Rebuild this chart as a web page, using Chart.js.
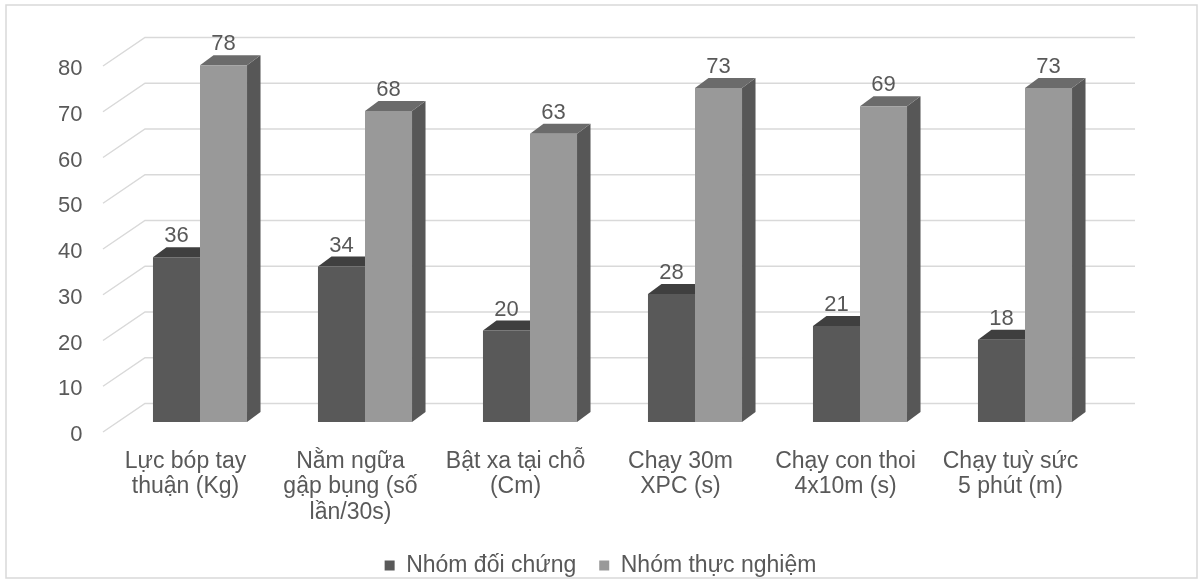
<!DOCTYPE html>
<html lang="vi">
<head>
<meta charset="UTF-8">
<title>Kết quả kiểm tra</title>
<script src="https://cdn.jsdelivr.net/npm/chart.js"></script>
<style>
  html, body { margin: 0; padding: 0; background: #fff; }
  #wrap { width: 1201px; height: 583px; }
</style>
</head>
<body>
<div id="wrap"><canvas id="myChart" width="1201" height="583"></canvas></div>
<script>
const categories = [
  ['Lực bóp tay', 'thuận (Kg)'],
  ['Nằm ngữa', 'gập bụng (số', 'lần/30s)'],
  ['Bật xa tại chỗ', '(Cm)'],
  ['Chạy 30m', 'XPC (s)'],
  ['Chạy con thoi', '4x10m (s)'],
  ['Chạy tuỳ sức', '5 phút (m)']
];
const seriesNames = ['Nhóm đối chứng', 'Nhóm thực nghiệm'];
const doiChung = [36, 34, 20, 28, 21, 18];
const thucNghiem = [78, 68, 63, 73, 69, 73];
const yMin = 0, yMax = 80, yStep = 10;

const FONT = '"Liberation Sans", Arial, sans-serif';
const TEXT = '#595959';
const GRID = '#d9d9d9';

// depth of the bars and of the back wall
const BAR_DX = 13.5, BAR_DY = 10;
const WALL_DX = 27.5, WALL_DY = 18.5;
const FRONT_DX = -14.5, FRONT_DY = 10;

const faces = [
  { top: '#3f3f3f', side: '#474747' },
  { top: '#6b6b6b', side: '#575757' }
];

const threeD = {
  id: 'threeD',
  beforeDraw(chart) {
    const c = chart.ctx;
    c.save();
    c.strokeStyle = GRID;
    c.lineWidth = 1.5;
    c.strokeRect(6, 5, 1191, 573);
    c.restore();
  },
  beforeDatasetsDraw(chart) {
    const c = chart.ctx;
    const y = chart.scales.y;
    const area = chart.chartArea;
    c.save();
    c.strokeStyle = GRID;
    c.lineWidth = 1.5;
    y.ticks.forEach(t => {
      const py = y.getPixelForValue(t.value);
      c.beginPath();
      c.moveTo(area.left + FRONT_DX, py + FRONT_DY);
      c.lineTo(area.left + WALL_DX, py - WALL_DY);
      c.lineTo(area.right + WALL_DX, py - WALL_DY);
      c.stroke();
    });
    // top and side faces, the front face is the normal bar
    chart.data.datasets.forEach((ds, i) => {
      chart.getDatasetMeta(i).data.forEach(bar => {
        const l = bar.x - bar.width / 2, r = bar.x + bar.width / 2;
        const top = bar.y, base = bar.base;
        c.fillStyle = faces[i].side;
        c.beginPath();
        c.moveTo(r, top);
        c.lineTo(r + BAR_DX, top - BAR_DY);
        c.lineTo(r + BAR_DX, base - BAR_DY);
        c.lineTo(r, base);
        c.closePath();
        c.fill();
        c.fillStyle = faces[i].top;
        c.beginPath();
        c.moveTo(l, top);
        c.lineTo(l + BAR_DX, top - BAR_DY);
        c.lineTo(r + BAR_DX, top - BAR_DY);
        c.lineTo(r, top);
        c.closePath();
        c.fill();
      });
    });
    c.restore();
  },
  afterDatasetsDraw(chart) {
    const c = chart.ctx;
    c.save();
    c.fillStyle = TEXT;
    c.font = '22px ' + FONT;
    c.textAlign = 'center';
    c.textBaseline = 'middle';
    chart.data.datasets.forEach((ds, i) => {
      chart.getDatasetMeta(i).data.forEach((bar, j) => {
        c.fillText(String(ds.data[j]), bar.x, bar.y - 21);
      });
    });
    c.restore();
  }
};

new Chart(document.getElementById('myChart'), {
  type: 'bar',
  data: {
    labels: categories,
    datasets: [
      { label: seriesNames[0], data: doiChung, backgroundColor: '#595959' },
      { label: seriesNames[1], data: thucNghiem, backgroundColor: '#999999' }
    ]
  },
  options: {
    responsive: false,
    animation: false,
    events: [],
    layout: { padding: { top: 56, left: 0, right: 0, bottom: -4 } },
    datasets: { bar: { categoryPercentage: 0.57, barPercentage: 1.0, borderWidth: 0 } },
    scales: {
      x: {
        grid: { display: false, drawTicks: false },
        border: { display: false },
        ticks: {
          color: TEXT,
          font: { family: FONT, size: 23, lineHeight: 1.1 },
          padding: 27,
          labelOffset: FRONT_DX,
          maxRotation: 0,
          autoSkip: false
        },
        afterFit: s => { s.height = 109; }
      },
      y: {
        min: yMin,
        max: yMax,
        grid: { display: false, drawTicks: false },
        border: { display: false },
        ticks: {
          stepSize: yStep,
          color: TEXT,
          font: { family: FONT, size: 22 },
          padding: 35,
          labelOffset: FRONT_DY + 3
        },
        afterFit: s => { s.width = 117.5; }
      },
      yR: {
        position: 'right',
        grid: { display: false, drawTicks: false },
        border: { display: false },
        ticks: { display: false },
        afterFit: s => { s.width = 93.5; }
      }
    },
    plugins: {
      tooltip: { enabled: false },
      legend: {
        position: 'bottom',
        labels: {
          boxWidth: 10,
          boxHeight: 10,
          padding: 23,
          color: TEXT,
          font: { family: FONT, size: 23 }
        }
      }
    }
  },
  plugins: [threeD]
});
</script>
</body>
</html>
